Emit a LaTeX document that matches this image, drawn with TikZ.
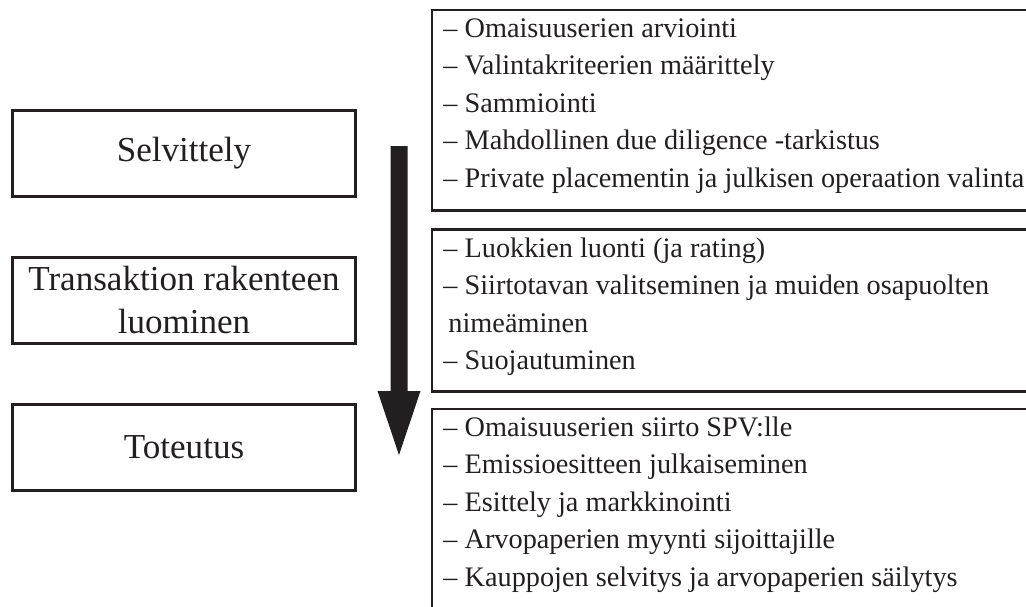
\documentclass[tikz,border=0pt]{standalone}
\usepackage{fontspec}
\setmainfont{Liberation Serif}
\definecolor{ink}{RGB}{35,31,32}
\tikzset{every picture/.style={line width=2.2pt}}

\begin{document}
\begin{tikzpicture}[x=0.75pt,y=0.75pt,yscale=-1,xscale=1,
	phase/.style={draw=ink,text=ink,inner sep=0,minimum width=257.5pt,minimum height=64.7pt,align=center,font=\fontsize{26.3}{32.25}\selectfont},
	item/.style={anchor=base west,inner sep=0,text=ink,font=\fontsize{21.2}{27.75}\selectfont}]
	\useasboundingbox (0,0) rectangle (1026,607);
	\clip (0,0) rectangle (1026,607);

	%Shape: Rectangle
	\draw (184,153.5) node[phase] (selv) {Selvittely};
	%Shape: Rectangle
	\draw (184,300.5) node[phase] (rak) {Transaktion rakenteen\\luominen};
	%Shape: Rectangle
	\draw (184,447.5) node[phase] (tot) {Toteutus};

	%Shape: Right Arrow (down)
	\fill[ink] (390.5,146) -- (407.5,146) -- (407.5,391) -- (420.5,391) -- (399,455) -- (377.5,391) -- (390.5,391) -- cycle;

	%Straight Lines (open box, right side cut)
	\draw[ink] (1040,10) -- (432,10) -- (432,210.5) -- (1040,210.5);
	%Straight Lines (open box, right side cut)
	\draw[ink] (1040,229.5) -- (432,229.5) -- (432,391.5) -- (1040,391.5);
	%Straight Lines (open box, right and bottom cut)
	\draw[ink] (1040,409) -- (432,409) -- (432,620);

	% Text Node
	\draw (442,37) node[item] (a1) {– Omaisuuserien arviointi};
	% Text Node
	\draw (442,74.5) node[item] (a2) {– Valintakriteerien määrittely};
	% Text Node
	\draw (442,112) node[item] (a3) {– Sammiointi};
	% Text Node
	\draw (442,149.5) node[item] (a4) {– Mahdollinen due diligence -tarkistus};
	% Text Node
	\draw (442,187) node[item] (a5) {– Private placementin ja julkisen operaation valinta};

	% Text Node
	\draw (442,257) node[item] (b1) {– Luokkien luonti (ja rating)};
	% Text Node
	\draw (442,294.5) node[item] (b2) {– Siirtotavan valitseminen ja muiden osapuolten};
	% Text Node
	\draw (447,332) node[item] (b3) {nimeäminen};
	% Text Node
	\draw (442,369.5) node[item] (b4) {– Suojautuminen};

	% Text Node
	\draw (442,436) node[item] (c1) {– Omaisuuserien siirto SPV:lle};
	% Text Node
	\draw (442,473.5) node[item] (c2) {– Emissioesitteen julkaiseminen};
	% Text Node
	\draw (442,511) node[item] (c3) {– Esittely ja markkinointi};
	% Text Node
	\draw (442,548.5) node[item] (c4) {– Arvopaperien myynti sijoittajille};
	% Text Node
	\draw (442,586) node[item] (c5) {– Kauppojen selvitys ja arvopaperien säilytys};

\end{tikzpicture}
\end{document}
